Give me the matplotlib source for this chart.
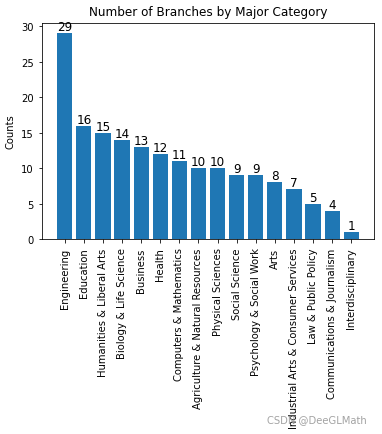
import matplotlib
matplotlib.use("Agg")
import matplotlib.pyplot as plt

categories = ["Engineering", "Education", "Humanities & Liberal Arts", "Biology & Life Science",
              "Business", "Health", "Computers & Mathematics", "Agriculture & Natural Resources",
              "Physical Sciences", "Social Science", "Psychology & Social Work", "Arts",
              "Industrial Arts & Consumer Services", "Law & Public Policy",
              "Communications & Journalism", "Interdisciplinary"]
counts = [29, 16, 15, 14, 13, 12, 11, 10, 10, 9, 9, 8, 7, 5, 4, 1]

s = 0.72
fig = plt.figure(figsize=(3.82, 4.35), dpi=100)
ax = fig.add_axes([0.11, 0.448, 0.869, 0.497])
bars = ax.bar(categories, counts, color="#1f77b4")
for b, v in zip(bars, counts):
    ax.text(b.get_x() + b.get_width() / 2, v, str(v), ha="center", va="bottom", fontsize=12 * s)
ax.set_title("Number of Branches by Major Category", fontsize=12 * s)
ax.set_ylabel("Counts", fontsize=10 * s)
ax.tick_params(axis="both", labelsize=10 * s, length=3.5 * s, width=0.8 * s)
ax.set_xticks(range(len(categories)))
ax.set_xticklabels(categories, rotation=90)
ax.set_yticks([0, 5, 10, 15, 20, 25, 30])
for sp in ax.spines.values():
    sp.set_linewidth(0.8 * s)
fig.text(0.96, 0.035, "CSDN @DeeGLMath", ha="right", va="center", fontsize=10 * s, color="#999999", alpha=0.9)
fig.savefig("out.png", dpi=100)
